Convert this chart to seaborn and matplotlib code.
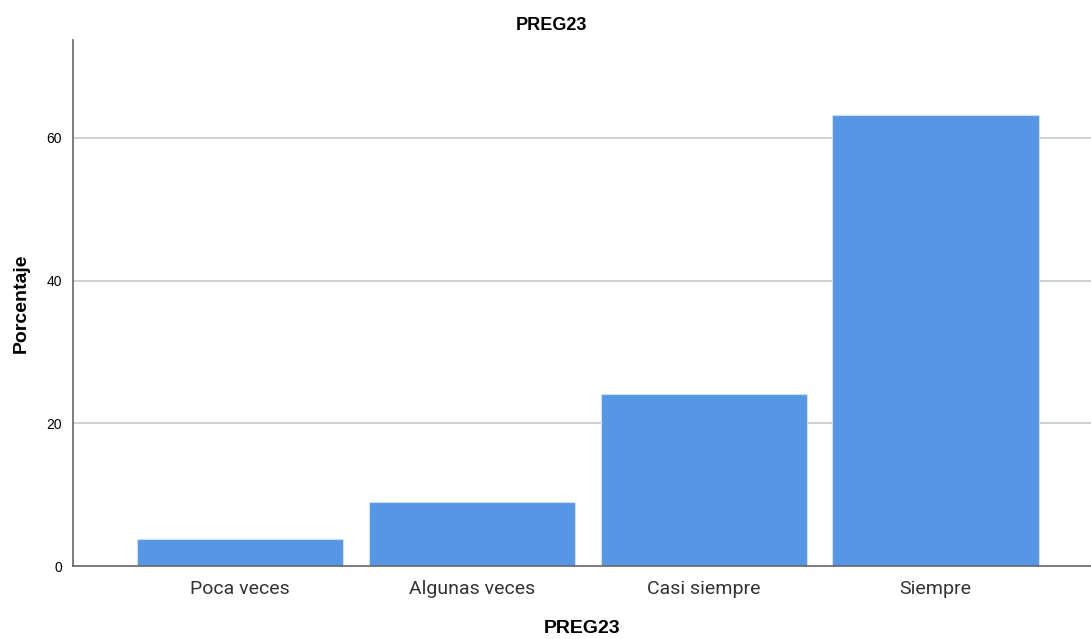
import matplotlib
matplotlib.use("Agg")
import matplotlib.pyplot as plt
import seaborn as sns
import pandas as pd

# ============================================================
# Data
# ============================================================

categories = ["Poca veces", "Algunas veces", "Casi siempre", "Siempre"]
percentages = [3.8, 8.9, 24.1, 63.2]
y_ticks = [0, 20, 40, 60]

df = pd.DataFrame({"PREG23": categories, "Porcentaje": percentages})

# ============================================================
# Plot
# ============================================================

sns.set_theme(style="white")
plt.rcParams["font.family"] = ["Liberation Sans", "DejaVu Sans"]
plt.rcParams["text.color"] = "black"
plt.rcParams["axes.labelcolor"] = "black"

fig = plt.figure(figsize=(10.91, 6.39), dpi=100)
ax = fig.add_axes([73 / 1091, 1 - 566 / 639, 1 - 73 / 1091, (566 - 40) / 639])

sns.barplot(data=df, x="PREG23", y="Porcentaje", color="#5596E5",
            width=0.89, edgecolor="#CFE0F7", linewidth=0.8,
            saturation=1, ax=ax, zorder=3)

ax.set_xlim(-0.72, 3.67)
ax.set_ylim(0, 73.7)
ax.set_yticks(y_ticks)
ax.set_yticklabels([str(t) for t in y_ticks], fontsize=10, color="black")
ax.tick_params(axis="y", length=0, pad=8)
ax.tick_params(axis="x", length=0, pad=10)
for lbl in ax.get_xticklabels():
    lbl.set_fontsize(14)
    lbl.set_color("#333333")
    lbl.set_family(["Roboto", "DejaVu Sans"])

for t in y_ticks[1:]:
    ax.axhline(t, color="#C8C8C8", linewidth=1.2, zorder=1)

for side in ["top", "right"]:
    ax.spines[side].set_visible(False)
for side in ["left", "bottom"]:
    ax.spines[side].set_color("#666666")
    ax.spines[side].set_linewidth(1.2)
    ax.spines[side].set_zorder(4)

ax.set_xlabel("PREG23", fontsize=14, fontweight="bold", labelpad=16)
ax.set_ylabel("Porcentaje", fontsize=14, fontweight="bold", labelpad=12)
fig.text(551 / 1091, 1 - 25 / 639, "PREG23", fontsize=13, fontweight="bold",
         ha="center", va="center")

fig.savefig("out.png", dpi=100)
